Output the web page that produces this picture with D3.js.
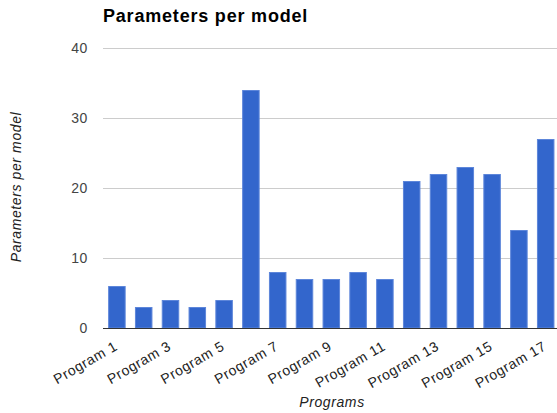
<!DOCTYPE html>
<html><head><meta charset="utf-8">
<script src="https://cdn.jsdelivr.net/npm/d3@7"></script>
<style>body{margin:0;background:#fff}svg{display:block}</style>
</head><body>
<script>
const categories = ["Program 1","Program 2","Program 3","Program 4","Program 5","Program 6","Program 7","Program 8","Program 9","Program 10","Program 11","Program 12","Program 13","Program 14","Program 15","Program 16","Program 17"];
const values = [6,3,4,3,4,34,8,7,7,8,7,21,22,23,22,14,27];
const yTicks = [0,10,20,30,40];
const shownLabels = ["Program 1","Program 3","Program 5","Program 7","Program 9","Program 11","Program 13","Program 15","Program 17"];
const title = "Parameters per model";
const xTitle = "Programs";
const yTitle = "Parameters per model";

(function () {
const W = 557, H = 413;
const svg = d3.select("body").append("svg").attr("width", W).attr("height", H)
  .style("font-family", "Arial, 'Liberation Sans', sans-serif");

const mLeft = 103, mRight = 557, mTop = 48, mBottom = 328;
const x = d3.scaleBand().domain(categories).range([103.5, 103.5 + 26.8*17]).paddingInner(0.347).paddingOuter(0.1735);
const y = d3.scaleLinear().domain([0, 40]).range([mBottom, mTop]);

svg.append("g").selectAll("line").data(yTicks.filter(d => d !== 0)).join("line")
  .attr("x1", mLeft).attr("x2", mRight)
  .attr("y1", d => y(d) + 0.5).attr("y2", d => y(d) + 0.5)
  .attr("stroke", "#cccccc").attr("stroke-width", 1);

svg.append("g").selectAll("text").data(yTicks).join("text")
  .attr("x", 88).attr("y", d => y(d)).attr("dy", "0.35em")
  .attr("text-anchor", "end").attr("font-size", 14).attr("letter-spacing", 0.6).attr("fill", "#444")
  .text(d => d);

svg.append("g").selectAll("rect").data(values).join("rect")
  .attr("x", (d, i) => x(categories[i]) + 0.5)
  .attr("y", d => y(d) + 0.5)
  .attr("width", x.bandwidth() - 1)
  .attr("height", d => y(0) - y(d) - 0.5)
  .attr("fill", "#3366cc").attr("stroke", "#5d86da").attr("stroke-width", 1);

svg.append("line").attr("x1", mLeft).attr("x2", mRight)
  .attr("y1", y(0) + 0.5).attr("y2", y(0) + 0.5)
  .attr("stroke", "#333").attr("stroke-width", 1);

svg.append("g").selectAll("text").data(shownLabels).join("text")
  .attr("transform", d => `translate(${x(d) + x.bandwidth()/2 + 1.5},${mBottom + 21}) rotate(-30)`)
  .attr("text-anchor", "end").attr("font-size", 14).attr("letter-spacing", 0.6).attr("fill", "#222")
  .text(d => d);

svg.append("text").attr("x", 103).attr("y", 22).attr("font-size", 18).attr("letter-spacing", 0.8).attr("font-weight", "bold")
  .attr("fill", "#000").text(title);

svg.append("text").attr("x", 332).attr("y", 407).attr("text-anchor", "middle")
  .attr("font-size", 14).attr("letter-spacing", 0.6).attr("font-style", "italic").attr("fill", "#222").text(xTitle);
svg.append("text").attr("transform", `translate(21,187) rotate(-90)`)
  .attr("text-anchor", "middle").attr("font-size", 14).attr("letter-spacing", 0.6).attr("font-style", "italic").attr("fill", "#222").text(yTitle);
})();
</script>
</body></html>
